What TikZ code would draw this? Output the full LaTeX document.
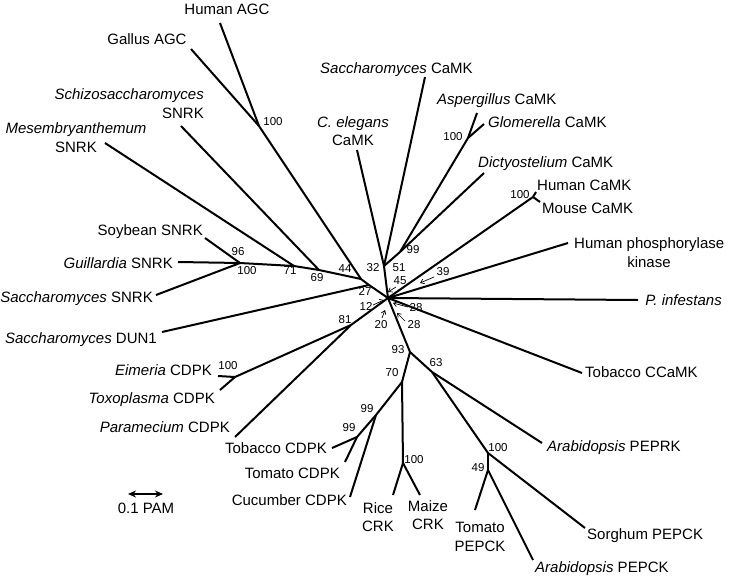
\documentclass[tikz,border=0pt]{standalone}
\usepackage{fontspec}
\setmainfont{Liberation Sans}
\usetikzlibrary{arrows.meta}
\begin{document}
\begin{tikzpicture}[x=1pt,y=-1pt,
 branch/.style={line width=2pt, line join=round},
 leaf/.style={font=\fontsize{15}{18}\selectfont, inner sep=0pt},
 boot/.style={font=\fontsize{11.5}{13}\selectfont, inner sep=0pt},
 pointer/.style={line width=0.7pt, -{Straight Barb[length=3.5pt,width=5pt]}},
 scalebar/.style={line width=1.1pt, {Stealth[length=8pt,width=7pt]}-{Stealth[length=8pt,width=7pt]}}
]
\useasboundingbox (0,0) rectangle (729,579);

% internal nodes
\coordinate (C) at (388,298);
\coordinate (J) at (384,266);
\coordinate (N99a) at (400,252);
\coordinate (N100asp) at (468,138);
\coordinate (N44) at (361,279);
\coordinate (N27) at (369,285);
\coordinate (N69) at (319,270);
\coordinate (N71) at (294,266);
\coordinate (N100s) at (240,263);
\coordinate (N100agc) at (259,126);
\coordinate (N81) at (351,325);
\coordinate (N100ei) at (235,377);
\coordinate (N93) at (410,352);
\coordinate (N70) at (402,382);
\coordinate (N63) at (432,372);
\coordinate (N100pep) at (488,453);
\coordinate (N49) at (488,470);
\coordinate (N100crk) at (403,463);
\coordinate (N99b) at (376,415);
\coordinate (N99c) at (357,437);
\coordinate (N100hc) at (533,197);

% leaf ends
\coordinate (HumanAGC) at (220,23);
\coordinate (GallusAGC) at (191,49);
\coordinate (Schizo) at (181,126);
\coordinate (Mesem) at (105,143);
\coordinate (Soybean) at (205,238);
\coordinate (Guill) at (178,262);
\coordinate (SaccSNRK) at (156,295);
\coordinate (DUN1) at (162,332);
\coordinate (Eimeria) at (218,376);
\coordinate (Toxo) at (220,390);
\coordinate (Param) at (235,437);
\coordinate (TobCDPK) at (332,448);
\coordinate (TomCDPK) at (345,462);
\coordinate (Cucumber) at (350,497);
\coordinate (Rice) at (393,495);
\coordinate (Maize) at (420,495);
\coordinate (TomPEP) at (475,510);
\coordinate (AraPEP) at (533,560);
\coordinate (Sorghum) at (585,528);
\coordinate (PEPRK) at (542,443);
\coordinate (CCaMK) at (582,373);
\coordinate (Pinf) at (638,300);
\coordinate (Phos) at (568,243);
\coordinate (HumCaMK) at (536,192);
\coordinate (MouseCaMK) at (540,202);
\coordinate (Dicty) at (484,173);
\coordinate (Glom) at (484,124);
\coordinate (Asp) at (477,113);
\coordinate (SaccCaMK) at (425,77);
\coordinate (Celeg) at (357,150);

% branches
\draw[branch] (HumanAGC) -- (N100agc);
\draw[branch] (GallusAGC) -- (N100agc);
\draw[branch] (N100agc) -- (N44);
\draw[branch] (Schizo) -- (N69);
\draw[branch] (Mesem) -- (N71);
\draw[branch] (Soybean) -- (N100s);
\draw[branch] (Guill) -- (N100s);
\draw[branch] (SaccSNRK) -- (N100s);
\draw[branch] (N100s) -- (N71) -- (N69) -- (N44) -- (N27) -- (C);
\draw[branch] (DUN1) -- (N27);
\draw[branch] (Eimeria) -- (N100ei);
\draw[branch] (Toxo) -- (N100ei);
\draw[branch] (N100ei) -- (N81);
\draw[branch] (Param) -- (N81);
\draw[branch] (N81) -- (C);
\draw[branch] (C) -- (N93);
\draw[branch] (N93) -- (N70);
\draw[branch] (N93) -- (N63);
\draw[branch] (N70) -- (N99b);
\draw[branch] (N70) -- (N100crk);
\draw[branch] (N99b) -- (N99c);
\draw[branch] (N99b) -- (Cucumber);
\draw[branch] (N99c) -- (TobCDPK);
\draw[branch] (N99c) -- (TomCDPK);
\draw[branch] (N100crk) -- (Rice);
\draw[branch] (N100crk) -- (Maize);
\draw[branch] (N63) -- (PEPRK);
\draw[branch] (N63) -- (N100pep);
\draw[branch] (N100pep) -- (Sorghum);
\draw[branch] (N100pep) -- (N49);
\draw[branch] (N49) -- (TomPEP);
\draw[branch] (N49) -- (AraPEP);
\draw[branch] (C) -- (CCaMK);
\draw[branch] (C) -- (Pinf);
\draw[branch] (C) -- (Phos);
\draw[branch] (C) -- (N100hc);
\draw[branch] (N100hc) -- (HumCaMK);
\draw[branch] (N100hc) -- (MouseCaMK);
\draw[branch] (C) -- (J);
\draw[branch] (J) -- (Celeg);
\draw[branch] (J) -- (SaccCaMK);
\draw[branch] (J) -- (N99a);
\draw[branch] (N99a) -- (Dicty);
\draw[branch] (N99a) -- (N100asp);
\draw[branch] (N100asp) -- (Asp);
\draw[branch] (N100asp) -- (Glom);

% leaf labels
\node[leaf, anchor=base] (tHumanAGC) at (227,14) {Human AGC};
\node[leaf, anchor=base] (tGallusAGC) at (147,44) {Gallus AGC};
\node[leaf, anchor=base east] (tSchizoA) at (204,99) {\textit{Schizosaccharomyces}};
\node[leaf, anchor=base east] (tSchizoB) at (204,118) {SNRK};
\node[leaf, anchor=base] (tMesemA) at (76,133) {\textit{Mesembryanthemum}};
\node[leaf, anchor=base] (tMesemB) at (76,152) {SNRK};
\node[leaf, anchor=base east] (tSoybean) at (203,235) {Soybean SNRK};
\node[leaf, anchor=base east] (tGuill) at (173,268) {\textit{Guillardia} SNRK};
\node[leaf, anchor=base east] (tSaccSNRK) at (153,302) {\textit{Saccharomyces} SNRK};
\node[leaf, anchor=base east] (tDUN1) at (157,343) {\textit{Saccharomyces} DUN1};
\node[leaf, anchor=base east] (tEimeria) at (212,375) {\textit{Eimeria} CDPK};
\node[leaf, anchor=base east] (tToxo) at (215,403) {\textit{Toxoplasma} CDPK};
\node[leaf, anchor=base east] (tParam) at (230,432) {\textit{Paramecium} CDPK};
\node[leaf, anchor=base east] (tTobCDPK) at (327,453) {Tobacco CDPK};
\node[leaf, anchor=base east] (tTomCDPK) at (340,478) {Tomato CDPK};
\node[leaf, anchor=base east] (tCucumber) at (347,505) {Cucumber CDPK};
\node[leaf, anchor=base] (tRiceA) at (378,513) {Rice};
\node[leaf, anchor=base] (tRiceB) at (378,531) {CRK};
\node[leaf, anchor=base] (tMaizeA) at (428,511) {Maize};
\node[leaf, anchor=base] (tMaizeB) at (428,529) {CRK};
\node[leaf, anchor=base] (tTomPEPA) at (480,532) {Tomato};
\node[leaf, anchor=base] (tTomPEPB) at (480,551) {PEPCK};
\node[leaf, anchor=base west] (tAraPEP) at (535,572) {\textit{Arabidopsis} PEPCK};
\node[leaf, anchor=base west] (tSorghum) at (587,539) {Sorghum PEPCK};
\node[leaf, anchor=base west] (tPEPRK) at (547,451) {\textit{Arabidopsis} PEPRK};
\node[leaf, anchor=base west] (tCCaMK) at (585,377) {Tobacco CCaMK};
\node[leaf, anchor=base east] (tPinf) at (722,305) {\textit{P. infestans}};
\node[leaf, anchor=base west] (tPhosA) at (574,248) {Human phosphorylase};
\node[leaf, anchor=base] (tPhosB) at (649,267) {kinase};
\node[leaf, anchor=base west] (tHumCaMK) at (537,190) {Human CaMK};
\node[leaf, anchor=base west] (tMouse) at (542,213) {Mouse CaMK};
\node[leaf, anchor=base west] (tDicty) at (478,167) {\textit{Dictyostelium} CaMK};
\node[leaf, anchor=base west] (tGlom) at (488,127) {\textit{Glomerella} CaMK};
\node[leaf, anchor=base west] (tAsp) at (437,104) {\textit{Aspergillus} CaMK};
\node[leaf, anchor=base west] (tSaccCaMK) at (320,73) {\textit{Saccharomyces} CaMK};
\node[leaf, anchor=base] (tCelegA) at (353,127) {\textit{C. elegans}};
\node[leaf, anchor=base] (tCelegB) at (353,145) {CaMK};

% bootstrap values
\node[boot] (b100agc) at (273,122) {100};
\node[boot] (b96) at (238,252) {96};
\node[boot] (b100s) at (247,271) {100};
\node[boot] (b71) at (290,271) {71};
\node[boot] (b69) at (317,278) {69};
\node[boot] (b44) at (345,269) {44};
\node[boot] (b32) at (373,268) {32};
\node[boot] (b51) at (399,268) {51};
\node[boot] (b99a) at (413,250) {99};
\node[boot] (b100asp) at (453,137) {100};
\node[boot] (b100hc) at (520,195) {100};
\node[boot] (b39) at (443,272) {39};
\node[boot] (b45) at (400,281) {45};
\node[boot] (b27) at (365,291) {27};
\node[boot] (b12) at (366,306) {12};
\node[boot] (b28a) at (416,308) {28};
\node[boot] (b28b) at (414,325) {28};
\node[boot] (b20) at (381,325) {20};
\node[boot] (b81) at (345,320) {81};
\node[boot] (b100ei) at (228,366) {100};
\node[boot] (b93) at (398,350) {93};
\node[boot] (b63) at (436,363) {63};
\node[boot] (b70) at (392,373) {70};
\node[boot] (b99b) at (367,409) {99};
\node[boot] (b99c) at (349,428) {99};
\node[boot] (b100crk) at (414,460) {100};
\node[boot] (b100pep) at (498,448) {100};
\node[boot] (b49) at (478,468) {49};

% pointers
\coordinate (p45s) at (396,287); \coordinate (p45e) at (388,292);
\coordinate (p12s) at (373,305); \coordinate (p12e) at (384,300);
\coordinate (p20s) at (382,318); \coordinate (p20e) at (385,310);
\coordinate (p28as) at (408,307); \coordinate (p28ae) at (393,303);
\coordinate (p28bs) at (405,321); \coordinate (p28be) at (397,313);
\coordinate (p39s) at (434,277); \coordinate (p39e) at (420,283);
\draw[pointer] (p45s) -- (p45e);
\draw[pointer] (p12s) -- (p12e);
\draw[pointer] (p20s) -- (p20e);
\draw[pointer] (p28as) -- (p28ae);
\draw[pointer] (p28bs) -- (p28be);
\draw[pointer] (p39s) -- (p39e);

% scale bar
\coordinate (sbL) at (128,494);
\coordinate (sbR) at (163,494);
\draw[scalebar] (sbL) -- (sbR);
\node[leaf, anchor=base] (tScale) at (146,513) {0.1 PAM};
\end{tikzpicture}
\end{document}
